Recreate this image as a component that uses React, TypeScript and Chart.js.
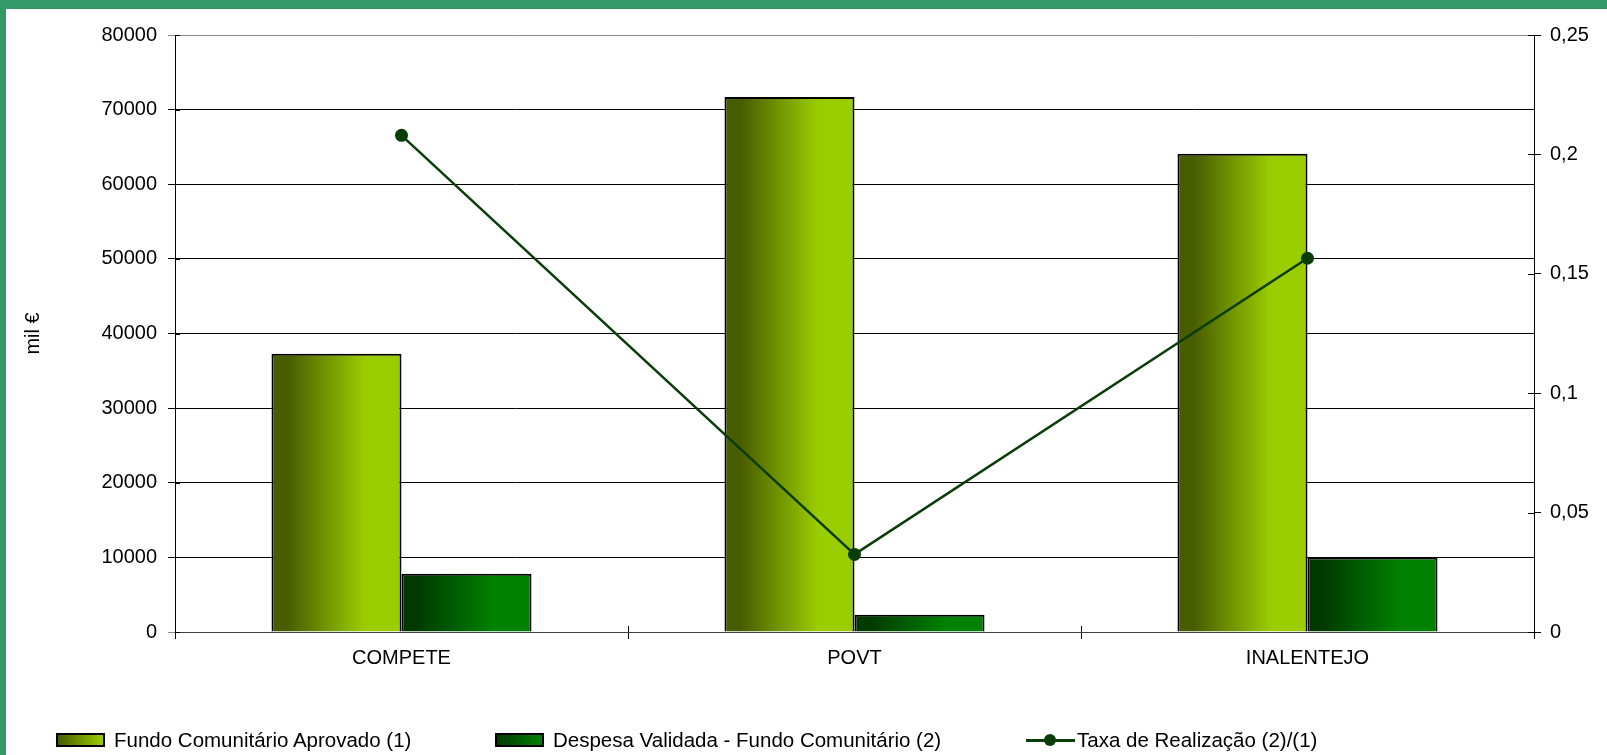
import React, { useEffect, useRef } from 'react';
import { Chart, registerables } from 'chart.js';

Chart.register(...registerables);

const categories = ['COMPETE', 'POVT', 'INALENTEJO'];
const fundoAprovado = [37300, 71700, 64100];
const despesaValidada = [7800, 2300, 10000];
const taxaRealizacao = [0.208, 0.0325, 0.1565];
const seriesNames = [
  'Fundo Comunitário Aprovado (1)',
  'Despesa Validada - Fundo Comunitário (2)',
  'Taxa de Realização (2)/(1)',
];
const yAxisTitle = 'mil €';

const CAT_PCT = 0.574;
const FONT = '"Liberation Sans", Arial, sans-serif';
const BAR1 = ['#485c00', '#9acd00'];
const BAR2 = ['#003a00', '#008200'];
const LINE = '#0b3d0b';

function gradientFill(colors: string[], side: number) {
  return (ctx: any) => {
    const chart = ctx.chart;
    const xs = chart.scales && chart.scales.x;
    if (!xs || ctx.dataIndex === undefined || !isFinite(xs.left)) return colors[1];
    const center = xs.getPixelForValue(ctx.dataIndex);
    const catW = (xs.right - xs.left) / categories.length;
    const half = (catW * CAT_PCT) / 2;
    const x0 = side === 0 ? center - half : center;
    const g = chart.ctx.createLinearGradient(x0, 0, x0 + half, 0);
    g.addColorStop(0, colors[0]);
    g.addColorStop(0.12, colors[0]);
    g.addColorStop(0.72, colors[1]);
    g.addColorStop(1, colors[1]);
    return g;
  };
}

const innerTicks = {
  id: 'innerTicks',
  afterDraw(chart: any) {
    const { ctx, chartArea, scales } = chart;
    ctx.save();
    ctx.lineWidth = 1;
    ctx.strokeStyle = '#000';
    const y = scales.y;
    y.ticks.forEach((t: any) => {
      const py = Math.round(y.getPixelForValue(t.value)) + 0.5;
      ctx.beginPath();
      ctx.moveTo(chartArea.left, py);
      ctx.lineTo(chartArea.left + 5, py);
      ctx.stroke();
    });
    const y1 = scales.y1;
    y1.ticks.forEach((t: any) => {
      const py = Math.round(y1.getPixelForValue(t.value)) + 0.5;
      ctx.beginPath();
      ctx.moveTo(chartArea.right - 6, py);
      ctx.lineTo(chartArea.right, py);
      ctx.stroke();
    });
    const xs = scales.x;
    const catW = (xs.right - xs.left) / categories.length;
    for (let i = 0; i <= categories.length; i++) {
      const px = Math.round(xs.left + catW * i) + 0.5;
      ctx.beginPath();
      ctx.moveTo(px, chartArea.bottom - 6);
      ctx.lineTo(px, chartArea.bottom);
      ctx.stroke();
    }
    ctx.restore();
  },
};

export default function App() {
  const ref = useRef<HTMLCanvasElement>(null);

  useEffect(() => {
    document.body.style.margin = '0';
    const canvas = ref.current;
    if (!canvas) return;
    const chart = new Chart(canvas, {
      type: 'bar',
      data: {
        labels: categories,
        datasets: [
          {
            type: 'line',
            label: seriesNames[2],
            data: taxaRealizacao,
            yAxisID: 'y1',
            borderColor: LINE,
            backgroundColor: LINE,
            borderWidth: 2.5,
            pointRadius: 6.5,
            pointBackgroundColor: LINE,
            pointBorderColor: LINE,
            pointBorderWidth: 0,
            tension: 0,
            order: 0,
          } as any,
          {
            type: 'bar',
            label: seriesNames[0],
            data: fundoAprovado,
            yAxisID: 'y',
            backgroundColor: gradientFill(BAR1, 0),
            borderColor: '#000',
            borderWidth: 2,
            categoryPercentage: CAT_PCT,
            barPercentage: 1,
            order: 1,
          } as any,
          {
            type: 'bar',
            label: seriesNames[1],
            data: despesaValidada,
            yAxisID: 'y',
            backgroundColor: gradientFill(BAR2, 1),
            borderColor: '#000',
            borderWidth: 2,
            categoryPercentage: CAT_PCT,
            barPercentage: 1,
            order: 2,
          } as any,
        ],
      },
      options: {
        responsive: false,
        animation: false,
        layout: { padding: { top: 35, bottom: 63, left: 0, right: 0 } },
        plugins: {
          legend: { display: false },
          tooltip: { enabled: false },
        },
        scales: {
          x: {
            offset: true,
            grid: {
              offset: true,
              drawOnChartArea: false,
              tickLength: 7,
              color: '#000',
            },
            border: { color: '#404040', width: 1 },
            ticks: {
              font: { family: FONT, size: 20 },
              color: '#000',
              padding: 7,
              maxRotation: 0,
            },
            afterFit: (s: any) => {
              s.height = 60;
            },
          },
          y: {
            position: 'left',
            min: 0,
            max: 80000,
            ticks: {
              stepSize: 10000,
              font: { family: FONT, size: 20 },
              color: '#000',
              padding: 11,
              callback: (v: any) => String(Math.round(Number(v))),
            },
            grid: {
              tickLength: 7,
              color: (c: any) =>
                c.tick && (c.tick.value === 80000 || c.tick.value === 0) ? '#8a8a8a' : '#000',
            },
            border: { color: '#000', width: 1 },
            title: {
              display: true,
              text: yAxisTitle,
              font: { family: FONT, size: 20 },
              color: '#000',
              padding: { top: 21, bottom: 0 },
            },
            afterFit: (s: any) => {
              s.width = 175;
            },
          },
          y1: {
            position: 'right',
            min: 0,
            max: 0.25,
            ticks: {
              stepSize: 0.05,
              font: { family: FONT, size: 20 },
              color: '#000',
              padding: 9,
              callback: (v: any) => String(parseFloat(Number(v).toFixed(2))).replace('.', ','),
            },
            grid: {
              drawOnChartArea: false,
              tickLength: 7,
              color: '#000',
            },
            border: { color: '#000', width: 1 },
            afterFit: (s: any) => {
              s.width = 73;
            },
          },
        },
      },
      plugins: [innerTicks],
    });
    return () => chart.destroy();
  }, []);

  const legendText: React.CSSProperties = {
    position: 'absolute',
    top: 728,
    height: 24,
    lineHeight: '24px',
    fontFamily: FONT,
    fontSize: 20.5,
    color: '#000',
    whiteSpace: 'nowrap',
  };

  return (
    <div
      style={{
        position: 'absolute',
        left: 0,
        top: 0,
        width: 1607,
        height: 755,
        background: '#fff',
        overflow: 'hidden',
      }}
    >
      <canvas ref={ref} width={1607} height={755} style={{ display: 'block', width: 1607, height: 755 }} />
      <div style={{ position: 'absolute', left: 0, top: 0, width: 1607, height: 9, background: '#339966' }} />
      <div style={{ position: 'absolute', left: 0, top: 0, width: 6, height: 755, background: '#339966' }} />

      <div
        style={{
          position: 'absolute',
          left: 56,
          top: 733,
          width: 49,
          height: 14,
          boxSizing: 'border-box',
          border: '2px solid #000',
          background: `linear-gradient(to right, ${BAR1[0]}, ${BAR1[1]})`,
        }}
      />
      <div style={{ ...legendText, left: 114 }}>{seriesNames[0]}</div>

      <div
        style={{
          position: 'absolute',
          left: 495,
          top: 733,
          width: 49,
          height: 14,
          boxSizing: 'border-box',
          border: '2px solid #000',
          background: `linear-gradient(to right, ${BAR2[0]}, ${BAR2[1]})`,
        }}
      />
      <div style={{ ...legendText, left: 553 }}>{seriesNames[1]}</div>

      <div style={{ position: 'absolute', left: 1026, top: 739, width: 49, height: 2.5, background: LINE }} />
      <div
        style={{
          position: 'absolute',
          left: 1044,
          top: 734,
          width: 12,
          height: 12,
          borderRadius: '50%',
          background: LINE,
        }}
      />
      <div style={{ ...legendText, left: 1077 }}>{seriesNames[2]}</div>
    </div>
  );
}
